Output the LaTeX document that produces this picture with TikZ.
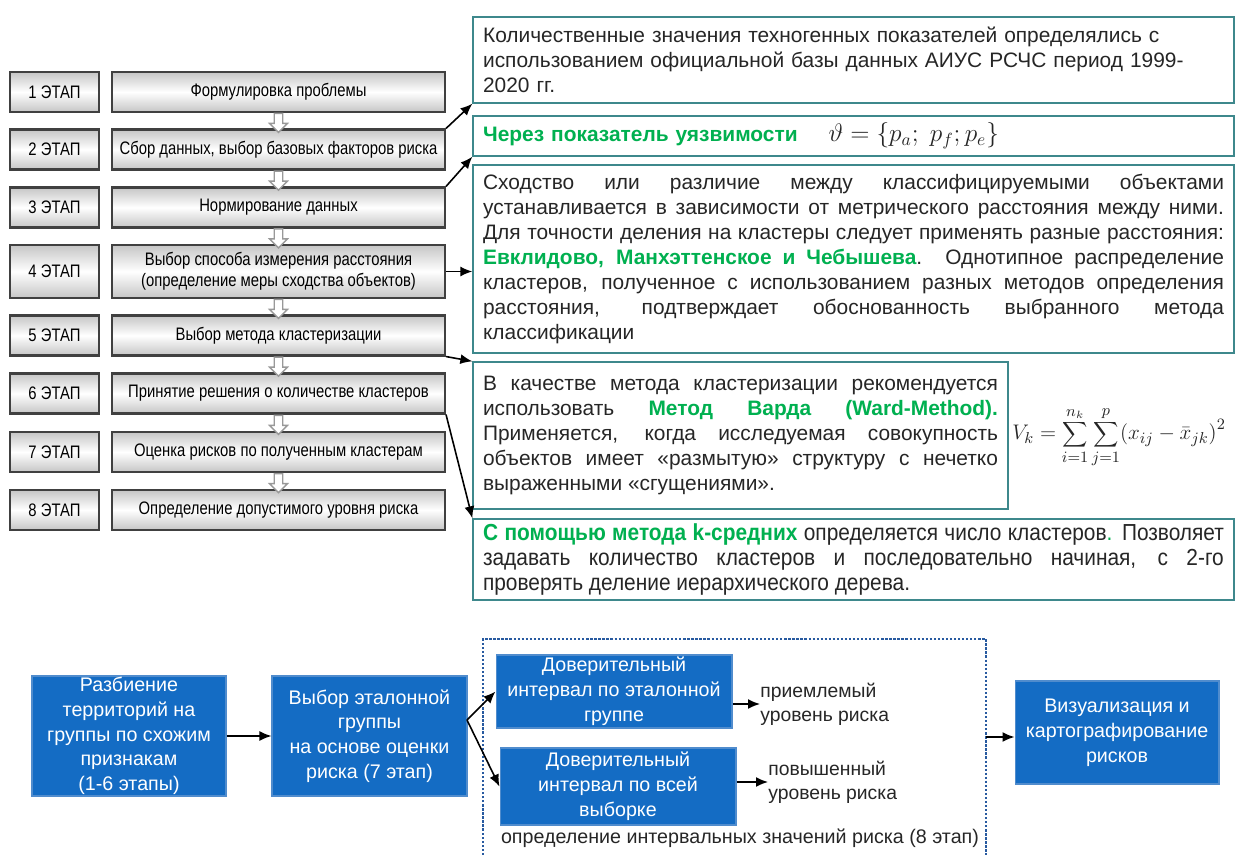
\documentclass[tikz,border=0pt]{standalone}
\usepackage[no-math]{fontspec}
\setmainfont{Liberation Sans}
\newfontfamily\narrowfont[FakeStretch=0.82]{Liberation Sans}
\newfontfamily\condfont[FakeStretch=0.9]{Liberation Sans}
\usetikzlibrary{shapes.arrows,calc,arrows.meta}
\definecolor{boxteal}{RGB}{62,136,140}
\definecolor{txtgray}{RGB}{38,38,38}
\definecolor{kgreen}{RGB}{0,176,80}
\definecolor{boxblue}{RGB}{20,108,196}
\definecolor{boxblueline}{RGB}{80,140,205}
\definecolor{dotblue}{RGB}{40,90,160}
\hyphenpenalty=10000
\exhyphenpenalty=10000
\tikzset{
  stagebox/.style={draw=black!75, line width=1.2pt, top color=gray!45, bottom color=gray!45, middle color=white, align=center, inner sep=0pt, minimum height=0.8cm, font=\narrowfont\fontsize{10.3}{12.2}\selectfont, text=black},
  downarr/.style={single arrow, draw=gray!80, fill=white, line width=0.8pt, rotate=-90, minimum height=0.38cm, minimum width=0.36cm, single arrow head extend=0.08cm, inner sep=1.6pt},
  infobox/.style={draw=boxteal, line width=0.8pt, fill=white, inner xsep=0.2cm, inner ysep=0pt, text=txtgray, font=\fontsize{11.9}{14.2}\selectfont},
  bluebox/.style={draw=boxblueline, line width=0.6pt, fill=boxblue, text=white, align=center, inner sep=0pt, font=\fontsize{11.2}{14.1}\selectfont},
  conn/.style={draw=black, line width=0.9pt, -{Latex[length=2.4mm,width=2mm]}},
}
\begin{document}
\begin{tikzpicture}[x=0.02cm, y=-0.02cm]
\useasboundingbox (0,0) rectangle (1237,855);

\node[stagebox, minimum width=1.78cm] (et1) at (54.5,92){1 ЭТАП};
\node[stagebox, minimum width=6.66cm] (st1) at (278.5,92){Формулировка проблемы};
\node[stagebox, minimum width=1.78cm] (et2) at (54.5,149.5){2 ЭТАП};
\node[stagebox, minimum width=6.66cm] (st2) at (278.5,149.5){Сбор данных, выбор базовых факторов риска};
\node[stagebox, minimum width=1.78cm] (et3) at (54.5,207.5){3 ЭТАП};
\node[stagebox, minimum width=6.66cm] (st3) at (278.5,207.5){Нормирование данных};
\node[stagebox, minimum width=1.78cm, minimum height=1.06cm] (et4) at (54.5,271.5){4 ЭТАП};
\node[stagebox, minimum width=6.66cm, minimum height=1.06cm] (st4) at (278.5,271.5){Выбор способа измерения расстояния\\(определение меры сходства объектов)};
\node[stagebox, minimum width=1.78cm] (et5) at (54.5,335.5){5 ЭТАП};
\node[stagebox, minimum width=6.66cm] (st5) at (278.5,335.5){Выбор метода кластеризации};
\node[stagebox, minimum width=1.78cm] (et6) at (54.5,393.5){6 ЭТАП};
\node[stagebox, minimum width=6.66cm] (st6) at (278.5,393.5){Принятие решения о количестве кластеров};
\node[stagebox, minimum width=1.78cm] (et7) at (54.5,452){7 ЭТАП};
\node[stagebox, minimum width=6.66cm] (st7) at (278.5,452){Оценка рисков по полученным кластерам};
\node[stagebox, minimum width=1.78cm] (et8) at (54.5,510){8 ЭТАП};
\node[stagebox, minimum width=6.66cm] (st8) at (278.5,510){Определение допустимого уровня риска};

\node[downarr] (da1) at ($(st1.south)!0.5!(st2.north)$){};
\node[downarr] (da2) at ($(st2.south)!0.5!(st3.north)$){};
\node[downarr] (da3) at ($(st3.south)!0.5!(st4.north)$){};
\node[downarr] (da4) at ($(st4.south)!0.5!(st5.north)$){};
\node[downarr] (da5) at ($(st5.south)!0.5!(st6.north)$){};
\node[downarr] (da6) at ($(st6.south)!0.5!(st7.north)$){};
\node[downarr] (da7) at ($(st7.south)!0.5!(st8.north)$){};

\node[infobox, text width=14.82cm, minimum height=1.72cm, align=left] (tb1) at (853.5,60){Количественные значения техногенных показателей определялись с\\использованием официальной базы данных АИУС РСЧС период 1999-\\2020 гг.};
\node[infobox, text width=14.82cm, minimum height=0.8cm, align=left] (tb2) at (853.5,136){\textcolor{kgreen}{\bfseries Через показатель уязвимости}\hspace{0.62cm}{\fontsize{14.2}{15}\selectfont$\vartheta=\{p_a;\ p_f;p_e\}$}};
\node[infobox, text width=14.82cm, minimum height=3.76cm, align=justify] (tb3) at (853.5,259){Сходство или различие между классифицируемыми объектами\linebreak устанавливается в зависимости от метрического расстояния между ними.\linebreak Для точности деления на кластеры следует применять разные расстояния:\linebreak \textcolor{kgreen}{\bfseries Евклидово, Манхэттенское и Чебышева}. Однотипное распределение\linebreak кластеров, полученное с использованием разных методов определения\linebreak расстояния, подтверждает обоснованность выбранного метода\linebreak классификации};
\node[infobox, text width=10.3cm, minimum height=2.94cm, align=justify] (tb4) at (740.5,435.5){В качестве метода кластеризации рекомендуется\linebreak использовать \textcolor{kgreen}{\bfseries Метод Варда (Ward-Method).}\linebreak Применяется, когда исследуемая совокупность\linebreak объектов имеет «размытую» структуру с нечетко\linebreak выраженными «сгущениями».};
\node[anchor=west, inner sep=0pt, text=txtgray, font=\fontsize{12.6}{14}\selectfont] (fm) at (1012,437){$\displaystyle V_k=\sum_{i=1}^{n_k}\sum_{j=1}^{p}\bigl(x_{ij}-\bar{x}_{jk}\bigr)^2$};
\node[infobox, text width=14.82cm, minimum height=1.62cm, align=justify, font=\condfont\fontsize{13.2}{14.2}\selectfont] (tb5) at (853.5,559.5){\textcolor{kgreen}{\bfseries С помощью метода k-средних} определяется число кластеров\textcolor{kgreen}{.} Позволяет\linebreak задавать количество кластеров и последовательно начиная, с 2-го\linebreak проверять деление иерархического дерева.};

\draw[conn] (st2.north east) -- (tb1.south west);
\draw[conn] (st3.north east) -- (tb2.south west);
\draw[conn] (st4.east) -- (st4.east -| tb3.west);
\draw[conn] (st5.south east) -- (tb4.north west);
\draw[conn] (st6.south east) -- (tb5.north west);

\node[bluebox, minimum width=3.88cm, minimum height=2.4cm] (bb1) at (129,736){Разбиение\\территорий на\\группы по схожим\\признакам\\(1-6 этапы)};
\node[bluebox, minimum width=3.9cm, minimum height=2.4cm] (bb2) at (369.5,736){Выбор эталонной\\группы\\на основе оценки\\риска (7 этап)};
\node[bluebox, minimum width=4.72cm, minimum height=1.46cm] (bb3) at (614,691.5){Доверительный\\интервал по эталонной\\группе};
\node[bluebox, minimum width=4.72cm, minimum height=1.54cm] (bb4) at (618,786.5){Доверительный\\интервал по всей\\выборке};
\node[bluebox, minimum width=4.08cm, minimum height=2.06cm] (bb5) at (1117,732.5){Визуализация и\\картографирование\\рисков};
\node[anchor=west, align=left, text=txtgray, font=\fontsize{11}{13.8}\selectfont, inner sep=0pt] (lab1) at (760,704){приемлемый\\уровень риска};
\node[anchor=west, align=left, text=txtgray, font=\fontsize{11}{13.8}\selectfont, inner sep=0pt] (lab2) at (768,782){повышенный\\уровень риска};
\node[text=txtgray, font=\fontsize{11.2}{13}\selectfont, inner sep=0pt] (lab3) at (740,838){определение интервальных значений риска (8 этап)};

\draw[densely dotted, line width=1.3pt, dotblue] (483,855) |- (986,639) -- (986,855);
\coordinate (fk) at (467,720);
\coordinate (fr) at (986,737);

\draw[conn] (bb1) -- (bb2);
\draw[conn] (fk) -- (bb3.west);
\draw[conn] (fk) -- (bb4.west);
\draw[conn] (bb3.east |- lab1.west) -- (lab1.west);
\draw[conn] (bb4.east |- lab2.west) -- (lab2.west);
\draw[conn] (fr) -- (fr -| bb5.west);

\end{tikzpicture}
\end{document}
